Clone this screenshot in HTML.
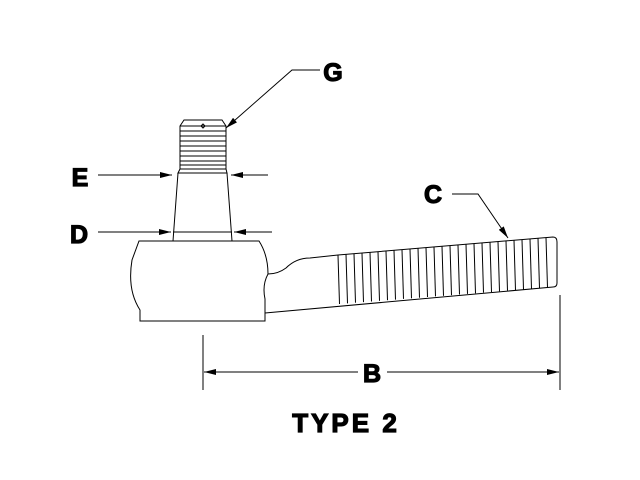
<!DOCTYPE html>
<html><head><style>html,body{margin:0;padding:0;background:#fff}svg{display:block}text{font-family:"Liberation Sans",Arial,sans-serif;font-weight:bold}</style></head><body>
<svg width="640" height="480" viewBox="0 0 640 480" xmlns="http://www.w3.org/2000/svg">
<defs><marker id="a" markerWidth="12" markerHeight="6" refX="12" refY="3" orient="auto" markerUnits="userSpaceOnUse"><path d="M0,0 L12,3 L0,6 z" fill="#000"/></marker></defs>
<g fill="none" stroke="#000" stroke-width="1">
<path d="M180,126 L184,120 L222,120 L226,126 L226,169 L180,169 Z"/>
<line x1="180" y1="126" x2="226" y2="126"/><line x1="180" y1="131" x2="226" y2="131"/><line x1="180" y1="136" x2="226" y2="136"/><line x1="180" y1="141" x2="226" y2="141"/><line x1="180" y1="146" x2="226" y2="146"/><line x1="180" y1="151" x2="226" y2="151"/><line x1="180" y1="156" x2="226" y2="156"/><line x1="180" y1="161" x2="226" y2="161"/><line x1="180" y1="165" x2="226" y2="165"/>
<path d="M201,126 l2,-2 l2,2 l-2,2 z"/>
<path d="M180,169 L178,173 L227,173 L226,169"/>
<path d="M178,173 L173,241 M227,173 L232,241 M173,232 L232,232"/>
<path d="M139,241 L259,241 Q268,255 268,274 Q262,285 265,299 L265,321 L140,321 L140,310 Q127,290 132,260 Z"/>
<path d="M268,274 Q278,274 286,268 Q296,258 310,258 L338,255 L553,237 Q557,237 557,242 L557,283 Q557,287 553,287 L265,313"/>
<line x1="338" y1="255" x2="339.5" y2="304"/>
<line x1="346" y1="254.3" x2="347.5" y2="303.4"/>
<line x1="354" y1="253.7" x2="355.5" y2="302.7"/>
<line x1="362" y1="253" x2="363.5" y2="302.1"/>
<line x1="370" y1="252.3" x2="371.5" y2="301.5"/>
<line x1="378" y1="251.7" x2="379.5" y2="300.8"/>
<line x1="386" y1="251" x2="387.5" y2="300.2"/>
<line x1="394" y1="250.3" x2="395.5" y2="299.6"/>
<line x1="402" y1="249.6" x2="403.5" y2="298.9"/>
<line x1="410" y1="249" x2="411.5" y2="298.3"/>
<line x1="418" y1="248.3" x2="419.5" y2="297.7"/>
<line x1="426" y1="247.6" x2="427.5" y2="297"/>
<line x1="434" y1="247" x2="435.5" y2="296.4"/>
<line x1="442" y1="246.3" x2="443.5" y2="295.8"/>
<line x1="450" y1="245.6" x2="451.5" y2="295.2"/>
<line x1="458" y1="245" x2="459.5" y2="294.5"/>
<line x1="466" y1="244.3" x2="467.5" y2="293.9"/>
<line x1="474" y1="243.6" x2="475.5" y2="293.3"/>
<line x1="482" y1="242.9" x2="483.5" y2="292.6"/>
<line x1="490" y1="242.3" x2="491.5" y2="292"/>
<line x1="498" y1="241.6" x2="499.5" y2="291.4"/>
<line x1="506" y1="240.9" x2="507.5" y2="290.7"/>
<line x1="514" y1="240.3" x2="515.5" y2="290.1"/>
<line x1="522" y1="239.6" x2="523.5" y2="289.5"/>
<line x1="530" y1="238.9" x2="531.5" y2="288.8"/>
<line x1="538" y1="238.3" x2="539.5" y2="288.2"/>
<line x1="546" y1="237.6" x2="547.5" y2="287.6"/>
</g>
<g stroke="#000" stroke-width="1" fill="none">
<line x1="98" y1="175" x2="172" y2="175" marker-end="url(#a)"/>
<line x1="268" y1="175" x2="231" y2="175" marker-end="url(#a)"/>
<line x1="98" y1="232" x2="171" y2="232" marker-end="url(#a)"/>
<line x1="272" y1="232" x2="234" y2="232" marker-end="url(#a)"/>
<polyline points="320,70 292,70 226,128" marker-end="url(#a)"/>
<polyline points="452,194 478,194 508,238" marker-end="url(#a)"/>
<line x1="203" y1="335" x2="203" y2="390"/>
<line x1="560" y1="295" x2="560" y2="390"/>
<line x1="358" y1="372" x2="204" y2="372" marker-end="url(#a)"/>
<line x1="387" y1="372" x2="559" y2="372" marker-end="url(#a)"/>
</g>
<g font-size="25" fill="#000" stroke="#000" stroke-width="1.2" text-anchor="middle">
<text x="333" y="81">G</text>
<text x="80" y="186">E</text>
<text x="79" y="243">D</text>
<text x="433" y="203">C</text>
<text x="372" y="382">B</text>
<text x="346" y="432" font-size="26" letter-spacing="3">TYPE 2</text>
</g>
</svg>
</body></html>
